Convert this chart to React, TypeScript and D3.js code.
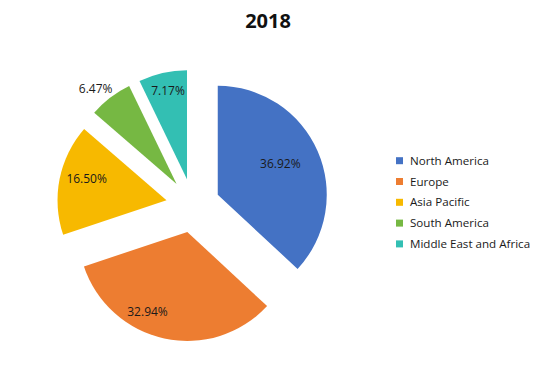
import React from "react";
import * as d3 from "d3";

const title = "2018";
const categories = ["North America", "Europe", "Asia Pacific", "South America", "Middle East and Africa"];
const values = [36.92, 32.94, 16.5, 6.47, 7.17];
const colors = ["#4472C4", "#ED7D31", "#F7B900", "#76B843", "#33BFB3"];
// label placement: fraction across the slice angle, and radius as a fraction of the pie radius
const labelFrac = [0.48, 0.62, 0.57, 0.38, 0.53];
const labelRad = [0.64, 0.82, 0.76, 1.15, 0.83];

const W = 539;
const H = 371;
const cx = 193;
const cy = 205.5;
const R = 109;
const explode = 27;

export default function App() {
  const pie = d3.pie<number>().sort(null).value((d) => d);
  const arcs = pie(values);
  const arc = d3.arc<d3.PieArcDatum<number>>().innerRadius(0).outerRadius(R);
  const font = "'Open Sans', sans-serif";

  return (
    <svg width={W} height={H} style={{ position: "absolute", left: 0, top: 0, background: "#fff" }}>
      <text x={268} y={27.5} textAnchor="middle" fontFamily={font} fontWeight="bold" fontSize={20} fill="#111">
        {title}
      </text>
      <g transform={`translate(${cx},${cy})`}>
        {arcs.map((a, i) => {
          const mid = (a.startAngle + a.endAngle) / 2;
          const ox = explode * Math.sin(mid);
          const oy = -explode * Math.cos(mid);
          const la = a.startAngle + (a.endAngle - a.startAngle) * labelFrac[i];
          const lr = R * labelRad[i];
          const lx = ox + lr * Math.sin(la);
          const ly = oy - lr * Math.cos(la);
          return (
            <g key={categories[i]}>
              <path d={arc(a) || ""} transform={`translate(${ox},${oy})`} fill={colors[i]} />
              <text x={lx} y={ly} dy="0.35em" textAnchor="middle" fontFamily={font} fontSize={12} fill="#1a1a1a">
                {`${values[i].toFixed(2)}%`}
              </text>
            </g>
          );
        })}
      </g>
      <g transform="translate(396,160.7)">
        {categories.map((c, i) => (
          <g key={c} transform={`translate(0,${i * 20.8})`}>
            <rect x={0} y={-3.5} width={7} height={7} fill={colors[i]} />
            <text x={14} y={0} dy="0.35em" fontFamily={font} fontSize={11.6} fill="#1a1a1a">
              {c}
            </text>
          </g>
        ))}
      </g>
    </svg>
  );
}
